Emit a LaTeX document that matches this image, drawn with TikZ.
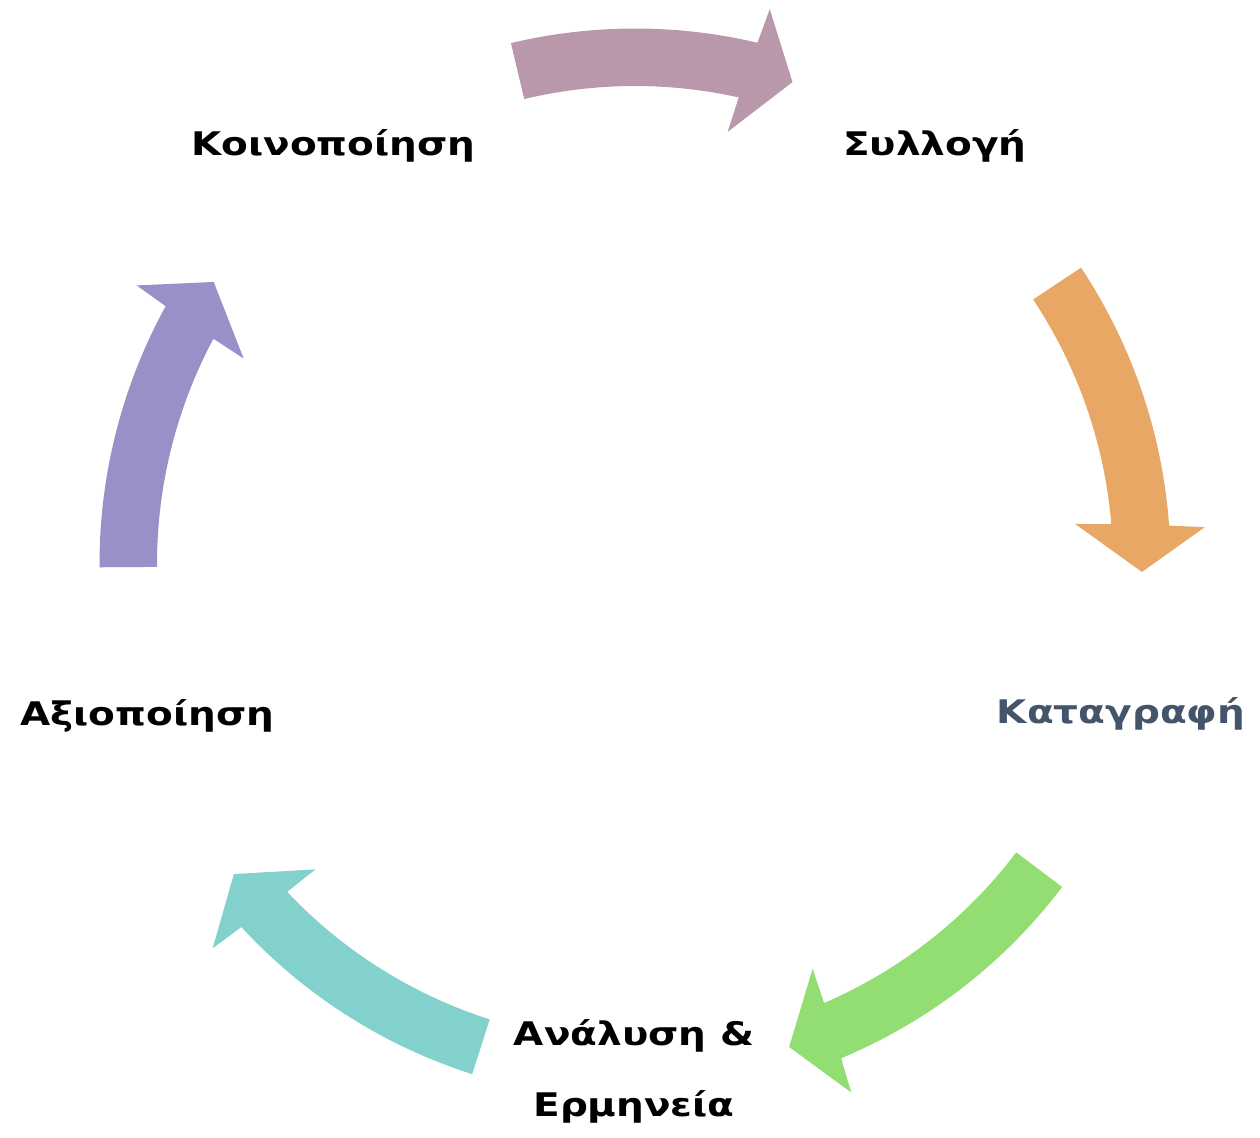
\documentclass[tikz,border=0pt]{standalone}
\usepackage{fontspec}
\newfontfamily\lblfont{DejaVu Sans Bold}[FakeStretch=1.2]
\definecolor{cpink}{HTML}{BA98AC}
\definecolor{corange}{HTML}{E8A765}
\definecolor{cgreen}{HTML}{92DE73}
\definecolor{cteal}{HTML}{82D1CD}
\definecolor{cpurple}{HTML}{9A8FC6}
\definecolor{cslate}{HTML}{44546A}
% #1 colour, #2 tail angle, #3 outer barb angle, #4 inner barb angle, #5 tip angle
\newcommand\cycarrow[6]{%
  \pgfmathsetmacro\cbo{#3+0.275*(#4-#3)}%
  \pgfmathsetmacro\cbi{#3+0.721*(#4-#3)}%
  \fill[#1] (#2:535.5pt) coordinate (#6-tail)
    arc[start angle=#2, end angle=\cbo, radius=535.5pt]
    -- (#3:571pt) -- (#5:507pt) coordinate (#6-tip) -- (#4:442pt) -- (\cbi:478pt)
    arc[start angle=\cbi, end angle=#2, radius=478pt] -- cycle;}
\begin{document}
\begin{tikzpicture}[
  lbl/.style={font=\lblfont\fontsize{32.5}{71}\selectfont, anchor=base, inner sep=0pt, text=black, align=center}]
\useasboundingbox (0pt,0pt) rectangle (1260pt,-1137pt);
\begin{scope}[shift={(635pt,-564pt)}]
  \cycarrow{cpink}{103.4}{76.35}{77.9}{71.9}{a1}
  \cycarrow{corange}{33.6}{3.7}{5.2}{-0.9}{a2}
  \cycarrow{cgreen}{-37.1}{-67.75}{-66.3}{-72.3}{a3}
  \cycarrow{cteal}{-107.7}{-137.7}{-136.3}{-142.3}{a4}
  \cycarrow{cpurple}{180.35}{150.8}{152.3}{146.2}{a5}
\end{scope}
\node[lbl] (koin) at (333.5pt,-155pt) {Κοινοποίηση};
\node[lbl] (syll) at (935pt,-155pt) {Συλλογή};
\node[lbl, text=cslate] (kata) at (1121pt,-723pt) {Καταγραφή};
\node[lbl] (anal) at (634pt,-1116pt) {Ανάλυση \&\\Ερμηνεία};
\node[lbl] (axio) at (147.5pt,-725pt) {Αξιοποίηση};
\end{tikzpicture}
\end{document}
